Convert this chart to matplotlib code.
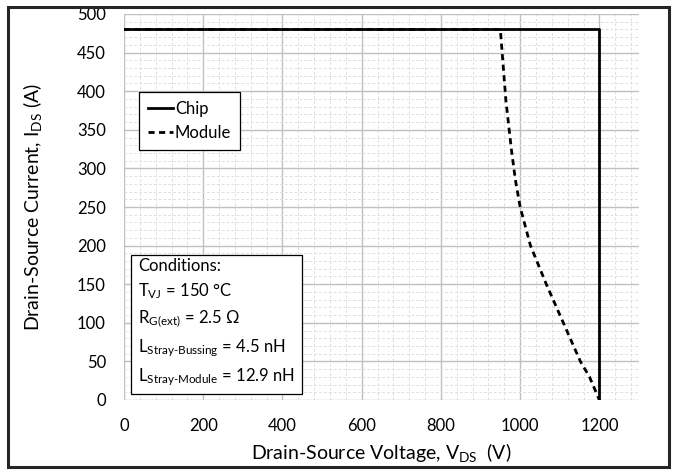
"""
Reverse-bias safe operating area: chip vs module.
"""
import matplotlib
matplotlib.use("Agg")
import matplotlib.pyplot as plt
from matplotlib.patches import Rectangle
from matplotlib.ticker import MultipleLocator

plt.rcParams["font.family"] = ["Lato", "DejaVu Sans"]
plt.rcParams["mathtext.fontset"] = "custom"
plt.rcParams["mathtext.rm"] = "Lato"
plt.rcParams["mathtext.it"] = "Lato"
plt.rcParams["mathtext.bf"] = "Lato:bold"

# chip limit
CHIP_V = [0, 1200, 1200]
CHIP_I = [480, 480, 0]

# module limit
MODULE_V = [0, 950, 964, 978, 988, 1000, 1026, 1066, 1109, 1152, 1175, 1190, 1200]
MODULE_I = [480, 480, 388, 324, 285, 250, 200, 150, 100, 50, 30, 12, 0]

CONDITIONS = [
    "Conditions:",
    r"T$_{\mathrm{VJ}}$ = 150 °C",
    r"R$_{\mathrm{G(ext)}}$ = 2.5 Ω",
    r"L$_{\text{Stray-Bussing}}$ = 4.5 nH",
    r"L$_{\text{Stray-Module}}$ = 12.9 nH",
]


def main() -> None:
    fig = plt.figure(figsize=(6.73, 4.74), dpi=100)
    ax = fig.add_axes([124 / 673, 1 - 400 / 474, (639 - 124) / 673, (400 - 14) / 474])

    # outer frame
    fig.patches.append(Rectangle((8 / 673, 7 / 474), 661 / 673, 460 / 474,
                                 transform=fig.transFigure, fill=False,
                                 edgecolor="#262626", linewidth=2.2))

    ax.plot(CHIP_V, CHIP_I, color="black", linewidth=2.0, label="Chip", zorder=3)
    ax.plot(MODULE_V, MODULE_I, color="black", linewidth=2.0, linestyle=(0, (2.2, 1.6)),
            label="Module", zorder=4)

    ax.set_xlim(0, 1300)
    ax.set_ylim(0, 500)
    ax.xaxis.set_major_locator(MultipleLocator(200))
    ax.xaxis.set_minor_locator(MultipleLocator(40))
    ax.yaxis.set_major_locator(MultipleLocator(50))
    ax.yaxis.set_minor_locator(MultipleLocator(10))
    ax.grid(which="major", color="#c0c0c0", linewidth=1.0, zorder=0)
    ax.grid(which="minor", color="#e0e0e0", linewidth=0.7, linestyle=(0, (3, 2)), zorder=0)
    ax.set_axisbelow(True)
    for s in ax.spines.values():
        s.set_visible(False)
    ax.tick_params(which="both", length=0, labelsize=12, pad=13)

    ax.set_xlabel(r"Drain-Source Voltage, V$_{\mathrm{DS}}$  (V)", fontsize=14, labelpad=5)
    ax.set_ylabel(r"Drain-Source Current, I$_{\mathrm{DS}}$ (A)", fontsize=14, labelpad=24)

    leg = ax.legend(loc="upper left", bbox_to_anchor=(15 / 515, (400 - 92) / 386),
                    fontsize=12, frameon=True, fancybox=False, framealpha=1,
                    edgecolor="black", handlelength=1.5, handletextpad=0.1,
                    borderpad=0.55, labelspacing=0.45, borderaxespad=0)
    leg.get_frame().set_linewidth(0.9)
    # ref box is a bit wider on the left
    for t in leg.get_texts():
        t.set_x(0)

    ax.text(0.027, 0.032, "\n".join(CONDITIONS), transform=ax.transAxes,
            fontsize=12, va="bottom", ha="left", linespacing=1.5, zorder=5,
            bbox=dict(boxstyle="square,pad=0.4", facecolor="white",
                      edgecolor="black", linewidth=0.9))

    fig.savefig("out.png", dpi=100)


if __name__ == "__main__":
    main()
